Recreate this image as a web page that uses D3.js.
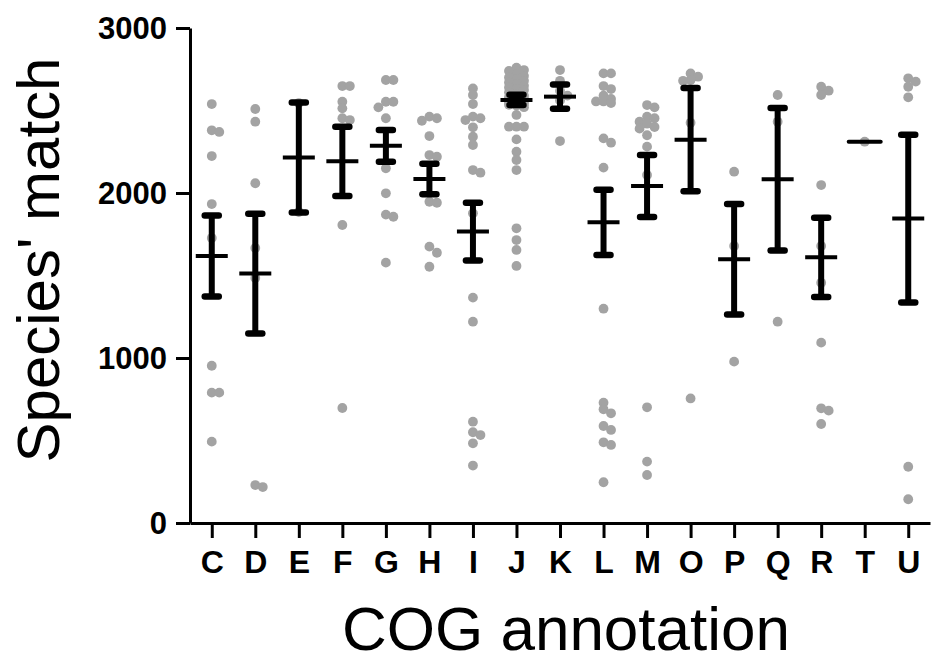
<!DOCTYPE html>
<html>
<head>
<meta charset="utf-8">
<script src="https://cdn.jsdelivr.net/npm/d3@7/dist/d3.min.js"></script>
<style>
    html, body { margin: 0; padding: 0; background: #fff; }
    svg { display: block; font-family: Arial, "Liberation Sans", sans-serif; }
</style>
</head>
<body>
<div id="chart"></div>
<script>
// COG categories on the x axis
const categories = ["C", "D", "E", "F", "G", "H", "I", "J", "K", "L", "M", "O", "P", "Q", "R", "T", "U"];

// mean and SEM for each category
const means = [1618, 1512, 2215, 2192, 2286, 2085, 1766, 2564, 2584, 1822, 2042, 2323, 1598, 2083, 1610, 2311, 1845];
const sems  = [245, 363, 333, 210, 96, 93, 175, 31, 74, 197, 188, 313, 335, 432, 240, 2, 508];

// individual species values, one array per category
const pts_C = [2539, 2380, 2370, 2224, 1933, 1727, 953, 790, 790, 493];
const pts_D = [2509, 2432, 2059, 1667, 1485, 230, 218];
const pts_E = [2545, 1885];
const pts_F = [2648, 2648, 2553, 2513, 2453, 2442, 1806, 697];
const pts_G = [2685, 2685, 2553, 2553, 2519, 2453, 2150, 1998, 1869, 1856, 1578];
const pts_H = [2463, 2453, 2438, 2345, 2230, 2220, 1947, 1941, 1675, 1638, 1553];
const pts_I = [2634, 2594, 2539, 2463, 2453, 2442, 2398, 2341, 2291, 2139, 2123, 1877, 1366, 1220, 614, 550, 533, 483, 348];
const pts_J = [2760, 2745, 2740, 2720, 2710, 2700, 2690, 2680, 2670, 2660, 2650, 2640, 2630, 2625, 2610,
               2600, 2590, 2580, 2575, 2570, 2565, 2560, 2555, 2550, 2545, 2540, 2535, 2530, 2520,
               2473, 2402, 2402, 2402, 2325, 2250, 2200, 2139, 1786, 1715, 1655, 1558];
const pts_K = [2745, 2680, 2620, 2590, 2560, 2315];
const pts_L = [2725, 2725, 2648, 2630, 2590, 2570, 2555, 2555, 2545, 2331, 2305, 2154, 1299, 729, 689, 665, 588, 564, 489, 473, 247];
const pts_M = [2533, 2519, 2463, 2453, 2432, 2420, 2400, 2390, 2350, 2281, 2109, 701, 372, 291];
const pts_O = [2725, 2705, 2685, 2680, 2426, 755];
const pts_P = [2129, 1679, 978];
const pts_Q = [2594, 2432, 1220];
const pts_R = [2644, 2620, 2594, 2048, 1679, 1456, 1093, 695, 681, 600];
const pts_T = [2311];
const pts_U = [2695, 2675, 2644, 2580, 341, 144];

const yTicks = [0, 1000, 2000, 3000];

const scatter = [pts_C, pts_D, pts_E, pts_F, pts_G, pts_H, pts_I, pts_J, pts_K,
                 pts_L, pts_M, pts_O, pts_P, pts_Q, pts_R, pts_T, pts_U];

const width = 934, height = 666;
const dot_color = "#a3a3a3", bar_color = "#000";
const r = 4.9;

const svg = d3.select("#chart").append("svg")
    .attr("width", width)
    .attr("height", height)
    .style("background", "#fff");

const x = d3.scalePoint().domain(categories).range([190, 930]).padding(0.5);
const y = d3.scaleLinear().domain([0, 3000]).range([523, 28]);

// small beeswarm: dots may overlap a bit, they only step sideways when they would hide each other
function swarm(values, cx) {
    const placed = [];
    const offsets = [0, 7.5, -7.5];
    values.forEach(v => {
        const cy = y(v);
        let best = offsets[0], bestDist = -1;
        for (const dx of offsets) {
            const d = d3.min(placed, p => Math.hypot(p.x - (cx + dx), p.y - cy));
            const dist = d === undefined ? Infinity : d;
            if (dist >= 6.5) { best = dx; bestDist = dist; break; }
            if (dist > bestDist) { best = dx; bestDist = dist; }
        }
        placed.push({x: cx + best, y: cy});
    });
    return placed;
}

// dots
const dots = svg.append("g").attr("class", "dots");
categories.forEach((c, i) => {
    dots.selectAll(null)
        .data(swarm(scatter[i], x(c)))
        .enter()
        .append("circle")
        .attr("cx", d => d.x)
        .attr("cy", d => d.y)
        .attr("r", r)
        .attr("fill", dot_color);
});

// mean +/- SEM bars
const bars = svg.append("g").attr("class", "bars")
    .selectAll("g")
    .data(categories.map((c, i) => ({c, m: means[i], s: sems[i]})))
    .enter()
    .append("g");

bars.append("line")
    .attr("x1", d => x(d.c)).attr("x2", d => x(d.c))
    .attr("y1", d => y(d.m + d.s)).attr("y2", d => y(d.m - d.s))
    .attr("stroke", bar_color).attr("stroke-width", 6);

[1, -1].forEach(sign => {
    bars.filter(d => d.s > 10).append("line")
        .attr("x1", d => x(d.c) - 7).attr("x2", d => x(d.c) + 7)
        .attr("y1", d => y(d.m + sign * d.s)).attr("y2", d => y(d.m + sign * d.s))
        .attr("stroke", bar_color).attr("stroke-width", 6.5)
        .attr("stroke-linecap", "round");
});

bars.append("line")
    .attr("x1", d => x(d.c) - 16).attr("x2", d => x(d.c) + 16)
    .attr("y1", d => y(d.m)).attr("y2", d => y(d.m))
    .attr("stroke", bar_color).attr("stroke-width", 4)
    .attr("stroke-linecap", d => d.s > 10 ? "butt" : "round");

// axes
const yAxis = svg.append("g")
    .attr("transform", "translate(190,0)")
    .call(d3.axisLeft(y).tickValues(yTicks).tickFormat(d3.format("d")).tickSize(14).tickSizeOuter(0).tickPadding(9));

const xAxis = svg.append("g")
    .attr("transform", "translate(0,523)")
    .call(d3.axisBottom(x).tickSize(15).tickSizeOuter(0));

[yAxis, xAxis].forEach(a => {
    a.select(".domain").attr("stroke", "#000").attr("stroke-width", 3);
    a.selectAll(".tick line").attr("stroke", "#000").attr("stroke-width", 3);
});

yAxis.selectAll(".tick text")
    .attr("fill", "#000")
    .style("font-size", "31px")
    .style("font-weight", "bold")
    .attr("dy", "0.35em");

xAxis.selectAll(".tick text")
    .attr("fill", "#000")
    .attr("y", 50)
    .attr("dy", 0)
    .style("font-size", "32px")
    .style("font-weight", "bold");

// axis titles
svg.append("text")
    .attr("transform", "translate(59,260) rotate(-90)")
    .attr("text-anchor", "middle")
    .style("font-size", "60px")
    .text("Species' match");

svg.append("text")
    .attr("x", 566)
    .attr("y", 650)
    .attr("text-anchor", "middle")
    .style("font-size", "62px")
    .text("COG annotation");
</script>
</body>
</html>
